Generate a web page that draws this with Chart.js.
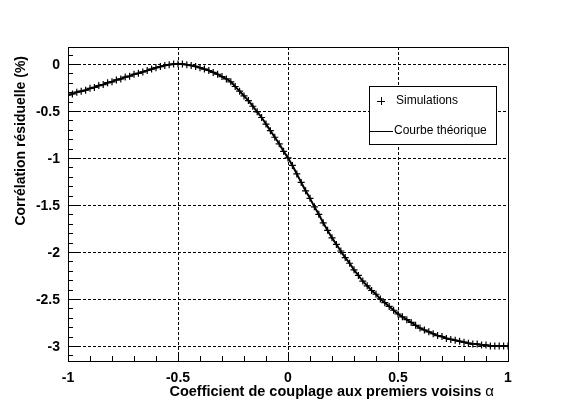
<!DOCTYPE html>
<html>
<head>
<meta charset="utf-8">
<script src="https://cdn.jsdelivr.net/npm/chart.js@4.4.1/dist/chart.umd.min.js"></script>
<style>
  html, body { margin: 0; padding: 0; background: #fff; }
  canvas { display: block; }
</style>
</head>
<body>
<canvas id="c" width="575" height="409"></canvas>
<script>
// alpha values of the simulation runs (step 0.02)
const alpha = [
  -1.00, -0.98, -0.96, -0.94, -0.92, -0.90, -0.88, -0.86, -0.84, -0.82,
  -0.80, -0.78, -0.76, -0.74, -0.72, -0.70, -0.68, -0.66, -0.64, -0.62,
  -0.60, -0.58, -0.56, -0.54, -0.52, -0.50, -0.48, -0.46, -0.44, -0.42,
  -0.40, -0.38, -0.36, -0.34, -0.32, -0.30, -0.28, -0.26, -0.24, -0.22,
  -0.20, -0.18, -0.16, -0.14, -0.12, -0.10, -0.08, -0.06, -0.04, -0.02,
   0.00,  0.02,  0.04,  0.06,  0.08,  0.10,  0.12,  0.14,  0.16,  0.18,
   0.20,  0.22,  0.24,  0.26,  0.28,  0.30,  0.32,  0.34,  0.36,  0.38,
   0.40,  0.42,  0.44,  0.46,  0.48,  0.50,  0.52,  0.54,  0.56,  0.58,
   0.60,  0.62,  0.64,  0.66,  0.68,  0.70,  0.72,  0.74,  0.76,  0.78,
   0.80,  0.82,  0.84,  0.86,  0.88,  0.90,  0.92,  0.94,  0.96,  0.98,
   1.00
];
// residual correlation (%)
const simulations = [
  -0.33, -0.32, -0.30, -0.29, -0.28, -0.26, -0.25, -0.23, -0.22, -0.20,
  -0.19, -0.17, -0.16, -0.14, -0.13, -0.11, -0.10, -0.085, -0.07, -0.055,
  -0.04, -0.028, -0.017, -0.008, -0.002, 0.00, -0.002, -0.008, -0.016, -0.027,
  -0.04, -0.055, -0.07, -0.09, -0.11, -0.135, -0.16, -0.19, -0.24, -0.29,
  -0.34, -0.39, -0.45, -0.51, -0.57, -0.64, -0.71, -0.78, -0.85, -0.93,
  -1.00, -1.08, -1.17, -1.26, -1.35, -1.43, -1.52, -1.60, -1.69, -1.77,
  -1.85, -1.92, -1.99, -2.06, -2.12, -2.19, -2.25, -2.31, -2.36, -2.41,
  -2.45, -2.50, -2.54, -2.58, -2.62, -2.66, -2.69, -2.72, -2.75, -2.78,
  -2.81, -2.83, -2.85, -2.87, -2.89, -2.90, -2.92, -2.93, -2.94, -2.95,
  -2.96, -2.97, -2.98, -2.98, -2.99, -2.99, -3.00, -3.00, -3.00, -3.00,
  -3.00
];
const theorique = simulations;

const xTicks = [-1, -0.5, 0, 0.5, 1];
const xTickLabels = ['-1', '-0.5', '0', '0.5', '1'];
const yTicks = [0, -0.5, -1, -1.5, -2, -2.5, -3];
const yTickLabels = ['0', '-0.5', '-1', '-1.5', '-2', '-2.5', '-3'];

const FONT = '"Liberation Sans", Arial, Helvetica, sans-serif';

// ROOT-like frame, grid, ticks, titles, legend
const rootFrame = {
  id: 'rootFrame',
  beforeDatasetsDraw(chart) {
    const { ctx, chartArea: a } = chart;
    const xs = chart.scales.x, ys = chart.scales.y;
    ctx.save();
    ctx.strokeStyle = '#000';
    ctx.lineWidth = 1;
    ctx.setLineDash([3, 2]);
    ctx.beginPath();
    xTicks.forEach(v => {
      const px = Math.round(xs.getPixelForValue(v)) + 0.5;
      ctx.moveTo(px, a.top); ctx.lineTo(px, a.bottom);
    });
    yTicks.forEach(v => {
      const py = Math.round(ys.getPixelForValue(v)) + 0.5;
      ctx.moveTo(a.left, py); ctx.lineTo(a.right, py);
    });
    ctx.stroke();
    ctx.restore();
  },
  afterDatasetsDraw(chart) {
    const { ctx, chartArea: a } = chart;
    const xs = chart.scales.x, ys = chart.scales.y;
    ctx.save();
    ctx.strokeStyle = '#000';
    ctx.lineWidth = 1;
    ctx.setLineDash([]);
    // frame
    ctx.strokeRect(Math.round(a.left) + 0.5, Math.round(a.top) + 0.5,
      Math.round(a.right - a.left), Math.round(a.bottom - a.top));
    // tick marks
    ctx.beginPath();
    for (let i = -10; i <= 10; i++) {
      const v = i / 10;
      const px = Math.round(xs.getPixelForValue(v)) + 0.5;
      const len = (i % 5 === 0) ? 9 : 5;
      ctx.moveTo(px, a.bottom); ctx.lineTo(px, a.bottom - len);
    }
    for (let i = -31; i <= 1; i++) {
      const v = i / 10;
      const py = Math.round(ys.getPixelForValue(v)) + 0.5;
      const len = (i % 5 === 0) ? 10 : 5;
      ctx.moveTo(a.left, py); ctx.lineTo(a.left + len, py);
    }
    ctx.stroke();

    // tick labels
    ctx.fillStyle = '#000';
    ctx.font = 'bold 14px ' + FONT;
    ctx.textAlign = 'right';
    ctx.textBaseline = 'middle';
    yTicks.forEach((v, i) => {
      ctx.fillText(yTickLabels[i], a.left - 8, ys.getPixelForValue(v) + 1);
    });
    ctx.textAlign = 'center';
    ctx.textBaseline = 'alphabetic';
    xTicks.forEach((v, i) => {
      ctx.fillText(xTickLabels[i], xs.getPixelForValue(v), 382);
    });

    // axis titles
    const xTitle = 'Coefficient de couplage aux premiers voisins ';
    ctx.font = '15px ' + FONT;
    const wa = ctx.measureText('α').width;
    ctx.textAlign = 'right';
    ctx.fillText('α', 494, 396);
    ctx.font = 'bold 14.5px ' + FONT;
    ctx.fillText(xTitle, 494 - wa, 396);

    ctx.font = 'bold 14px ' + FONT;
    ctx.translate(25, 56);
    ctx.rotate(-Math.PI / 2);
    ctx.textAlign = 'right';
    ctx.fillText('Corrélation résiduelle (%)', 0, 0);
    ctx.restore();
  },
  afterDraw(chart) {
    const { ctx } = chart;
    ctx.save();
    // legend box
    ctx.fillStyle = '#fff';
    ctx.fillRect(369.5, 86.5, 127, 58);
    ctx.strokeStyle = '#000';
    ctx.lineWidth = 1;
    ctx.strokeRect(369.5, 86.5, 127, 58);
    ctx.beginPath();
    ctx.moveTo(377, 101.5); ctx.lineTo(385, 101.5);
    ctx.moveTo(381.5, 97); ctx.lineTo(381.5, 105);
    ctx.moveTo(370, 131.5); ctx.lineTo(393, 131.5);
    ctx.stroke();
    ctx.fillStyle = '#000';
    ctx.font = '12px ' + FONT;
    ctx.textAlign = 'left';
    ctx.textBaseline = 'middle';
    ctx.fillText('Simulations', 396, 101);
    ctx.fillText('Courbe théorique', 394, 131);
    ctx.restore();
  }
};

new Chart(document.getElementById('c'), {
  type: 'scatter',
  data: {
    datasets: [
      {
        label: 'Courbe théorique',
        data: alpha.map((x, i) => ({ x: x, y: theorique[i] })),
        showLine: true,
        borderColor: '#000',
        borderWidth: 2,
        pointRadius: 0,
        tension: 0.3
      },
      {
        label: 'Simulations',
        data: alpha.map((x, i) => ({ x: x, y: simulations[i] })),
        showLine: false,
        pointStyle: 'cross',
        pointRadius: 3.5,
        borderColor: '#000',
        backgroundColor: '#000',
        pointBorderWidth: 1.2
      }
    ]
  },
  options: {
    responsive: false,
    devicePixelRatio: 1,
    animation: false,
    layout: { padding: { left: 68, right: 67, top: 47, bottom: 48 } },
    plugins: { legend: { display: false }, tooltip: { enabled: false } },
    scales: {
      x: { type: 'linear', min: -1, max: 1, display: false },
      y: { type: 'linear', min: -3.16, max: 0.18, display: false }
    }
  },
  plugins: [rootFrame]
});
</script>
</body>
</html>
